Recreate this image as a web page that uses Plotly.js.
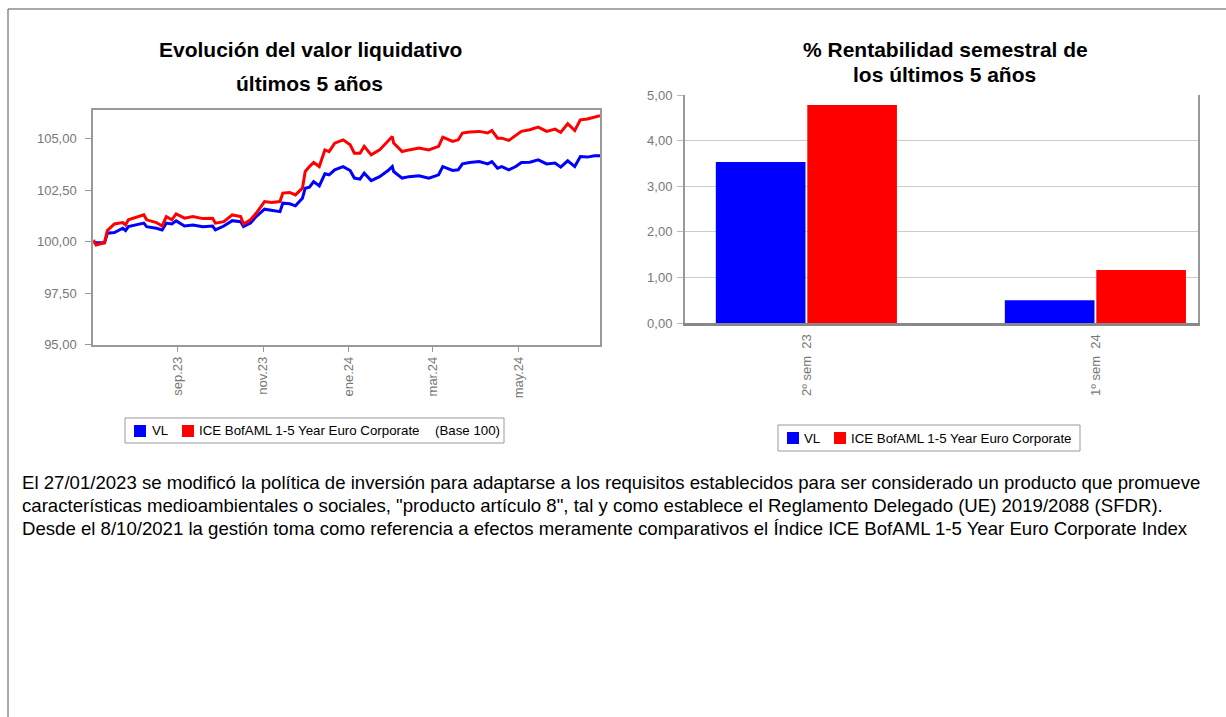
<!DOCTYPE html>
<html><head><meta charset="utf-8">
<script src="https://cdn.plot.ly/plotly-3.0.1.min.js"></script>
<style>html,body{margin:0;padding:0;background:#fff;overflow:hidden}#chart{width:1226px;height:717px}</style>
</head><body><div id="chart"></div>
<script>
// ---- Data: left chart (Base 100) ----
const dates = ['2023-07-03','2023-07-05','2023-07-11','2023-07-13','2023-07-18','2023-07-24','2023-07-26','2023-07-28',
'2023-08-08','2023-08-10','2023-08-17','2023-08-21','2023-08-24','2023-08-28','2023-08-31','2023-09-06','2023-09-12',
'2023-09-19','2023-09-26','2023-09-28','2023-10-04','2023-10-10','2023-10-16','2023-10-18','2023-10-23','2023-10-27',
'2023-11-02','2023-11-07','2023-11-13','2023-11-15','2023-11-20','2023-11-24','2023-11-29','2023-12-01','2023-12-04',
'2023-12-07','2023-12-11','2023-12-15','2023-12-18','2023-12-22','2023-12-28','2024-01-02','2024-01-05','2024-01-09',
'2024-01-12','2024-01-17','2024-01-23','2024-01-29','2024-02-01','2024-02-02','2024-02-08','2024-02-13','2024-02-20',
'2024-02-27','2024-03-05','2024-03-08','2024-03-15','2024-03-19','2024-03-22','2024-03-27','2024-04-03','2024-04-09',
'2024-04-12','2024-04-16','2024-04-19','2024-04-24','2024-04-29','2024-05-03','2024-05-09','2024-05-15','2024-05-21',
'2024-05-27','2024-05-31','2024-06-05','2024-06-10','2024-06-14','2024-06-19','2024-06-24','2024-06-28'];
const vl = [100.00,99.95,99.95,100.41,100.44,100.65,100.54,100.73,
100.90,100.73,100.65,100.57,100.90,100.86,101.01,100.76,100.81,
100.73,100.76,100.57,100.76,101.02,100.97,100.73,100.90,101.22,
101.58,101.51,101.46,101.87,101.84,101.74,102.11,102.60,102.65,
102.92,102.71,103.30,103.25,103.49,103.65,103.46,103.09,103.04,
103.33,102.97,103.16,103.46,103.65,103.41,103.09,103.16,103.20,
103.09,103.25,103.65,103.46,103.49,103.78,103.85,103.89,103.78,
103.89,103.57,103.65,103.49,103.65,103.85,103.86,103.98,103.78,
103.82,103.62,103.93,103.65,104.14,104.11,104.17,104.17];
const bench = [100.08,99.84,99.95,100.54,100.86,100.93,100.81,101.06,
101.30,101.06,100.93,100.76,101.22,101.06,101.35,101.14,101.22,
101.12,101.14,100.90,100.97,101.30,101.22,100.86,101.06,101.38,
101.95,101.90,101.95,102.36,102.39,102.27,102.60,103.41,103.65,
103.85,103.65,104.46,104.38,104.79,104.95,104.71,104.30,104.30,
104.63,104.22,104.46,104.87,105.11,104.79,104.38,104.46,104.55,
104.46,104.63,105.08,104.87,104.95,105.28,105.33,105.36,105.28,
105.40,105.03,105.03,104.92,105.19,105.36,105.44,105.57,105.36,
105.47,105.31,105.73,105.40,105.92,105.96,106.06,106.12];
const monthTickVals = ['2023-09-01','2023-11-01','2024-01-01','2024-03-01','2024-05-01'];
const monthTickText = ['sep.23','nov.23','ene.24','mar.24','may.24'];
const valueTicks = [95, 97.5, 100, 102.5, 105];

// ---- Data: right chart (% semestral) ----
const semLabels = ['2º sem\u00a0\u00a023', '1º sem\u00a0\u00a024'];
const semVL = [3.53, 0.50];
const semBench = [4.78, 1.16];
const pctTicks = [0, 1, 2, 3, 4, 5];

const seriesNames = ['VL', 'ICE BofAML 1-5 Year Euro Corporate'];
const blue = '#0000ff', red = '#ff0000';

// ---- helpers: pixel -> paper ----
const W = 1226, H = 717;
const px = x => x / W, py = y => 1 - y / H;
const FONT = 'Arial, "Liberation Sans", sans-serif';

const traces = [
  {type:'scatter', mode:'lines', x:dates, y:vl, name:seriesNames[0], line:{color:blue, width:3}, xaxis:'x', yaxis:'y', showlegend:false},
  {type:'scatter', mode:'lines', x:dates, y:bench, name:seriesNames[1], line:{color:red, width:3}, xaxis:'x', yaxis:'y', showlegend:false},
  {type:'bar', x:semLabels, y:semVL, name:seriesNames[0], marker:{color:blue}, xaxis:'x2', yaxis:'y2', showlegend:false},
  {type:'bar', x:semLabels, y:semBench, name:seriesNames[1], marker:{color:red}, xaxis:'x2', yaxis:'y2', showlegend:false}
];

const tickFont = {family:FONT, size:13, color:'#777'};
const TF = 21;
const annotations = [
  {text:'<b>Evolución del valor liquidativo</b>', x:px(310), y:py(50), font:{family:FONT,size:TF,color:'#000'}},
  {text:'<b>últimos 5 años</b>', x:px(309), y:py(83), font:{family:FONT,size:TF,color:'#000'}},
  {text:'<b>% Rentabilidad semestral de</b>', x:px(945), y:py(50), font:{family:FONT,size:TF,color:'#000'}},
  {text:'<b>los últimos 5 años</b>', x:px(944), y:py(74), font:{family:FONT,size:TF,color:'#000'}},
  // left legend
  {text:seriesNames[0], x:px(150), y:py(431), xanchor:'left', font:{family:FONT,size:13.3,color:'#000'}},
  {text:seriesNames[1], x:px(197), y:py(431), xanchor:'left', font:{family:FONT,size:13.3,color:'#000'}},
  {text:'(Base 100)', x:px(433), y:py(431), xanchor:'left', font:{family:FONT,size:13.3,color:'#000'}},
  // right legend
  {text:seriesNames[0], x:px(802), y:py(438), xanchor:'left', font:{family:FONT,size:13.3,color:'#000'}},
  {text:seriesNames[1], x:px(849), y:py(438), xanchor:'left', font:{family:FONT,size:13.3,color:'#000'}},
  // paragraph
  {text:'El 27/01/2023 se modificó la política de inversión para adaptarse a los requisitos establecidos para ser considerado un producto que promueve', x:px(20), y:py(482), xanchor:'left', font:{family:FONT,size:18.6,color:'#000'}},
  {text:'características medioambientales o sociales, "producto artículo 8", tal y como establece el Reglamento Delegado (UE) 2019/2088 (SFDR).', x:px(20), y:py(505), xanchor:'left', font:{family:FONT,size:18.6,color:'#000'}},
  {text:'Desde el 8/10/2021 la gestión toma como referencia a efectos meramente comparativos el Índice ICE BofAML 1-5 Year Euro Corporate Index', x:px(20), y:py(528), xanchor:'left', font:{family:FONT,size:18.6,color:'#000'}}
].map(a => Object.assign({xref:'paper', yref:'paper', showarrow:false, xanchor:'center', yanchor:'middle'}, a));

const rect = (x0,y0,x1,y1,o) => Object.assign({type:'rect', xref:'paper', yref:'paper', x0:px(x0), x1:px(x1), y0:py(y1), y1:py(y0)}, o);
const shapes = [
  rect(8, 9, 1300, 800, {line:{color:'#555', width:1}, fillcolor:'rgba(0,0,0,0)'}),
  rect(125, 418, 504, 443, {line:{color:'#999', width:1}, fillcolor:'rgba(0,0,0,0)'}),
  rect(134, 425, 146, 437, {line:{width:0}, fillcolor:blue}),
  rect(182, 425, 194, 437, {line:{width:0}, fillcolor:red}),
  rect(778, 425, 1080, 451, {line:{color:'#999', width:1}, fillcolor:'rgba(0,0,0,0)'}),
  rect(787, 432, 799, 444, {line:{width:0}, fillcolor:blue}),
  rect(834, 432, 846, 444, {line:{width:0}, fillcolor:red})
];

const layout = {
  width:W, height:H, margin:{l:0,r:0,t:0,b:0}, paper_bgcolor:'#fff', plot_bgcolor:'#fff',
  separators:',.', showlegend:false, font:{family:FONT},
  barmode:'group', bargap:0.367, bargroupgap:0.02,
  xaxis:{type:'date', domain:[px(93.3), px(600)], range:['2023-07-03','2024-06-28'],
    tickmode:'array', tickvals:monthTickVals, ticktext:monthTickText, tickangle:-90,
    ticks:'outside', ticklen:5, tickcolor:'#999', tickfont:tickFont, ticklabelstandoff:0,
    showline:true, linecolor:'#999', linewidth:2, mirror:true, showgrid:false, zeroline:false},
  yaxis:{domain:[py(344.5), py(110)], range:[95, 106.4], tickmode:'array', tickvals:valueTicks,
    tickformat:'.2f', ticks:'outside', ticklen:6, tickcolor:'#999', tickfont:tickFont, ticklabelstandoff:6,
    showline:true, linecolor:'#999', linewidth:2, mirror:true, showgrid:false, zeroline:false},
  xaxis2:{type:'category', domain:[px(685), px(1198)], range:[-0.42, 1.355], anchor:'y2',
    tickangle:-90, ticks:'', tickfont:tickFont, ticklabelstandoff:3,
    showline:true, linecolor:'#888', linewidth:3, mirror:false, showgrid:false, zeroline:false},
  yaxis2:{domain:[py(323), py(95)], range:[0,5], anchor:'x2', tickmode:'array', tickvals:pctTicks,
    tickformat:'.2f', ticks:'outside', ticklen:6, tickcolor:'#bbb', tickfont:tickFont, ticklabelstandoff:2,
    showline:true, linecolor:'#999', linewidth:2, mirror:true, showgrid:true, gridcolor:'#ccc', gridwidth:1, zeroline:false},
  annotations:annotations, shapes:shapes
};

Plotly.newPlot('chart', traces, layout, {staticPlot:true, displayModeBar:false});
</script></body></html>
